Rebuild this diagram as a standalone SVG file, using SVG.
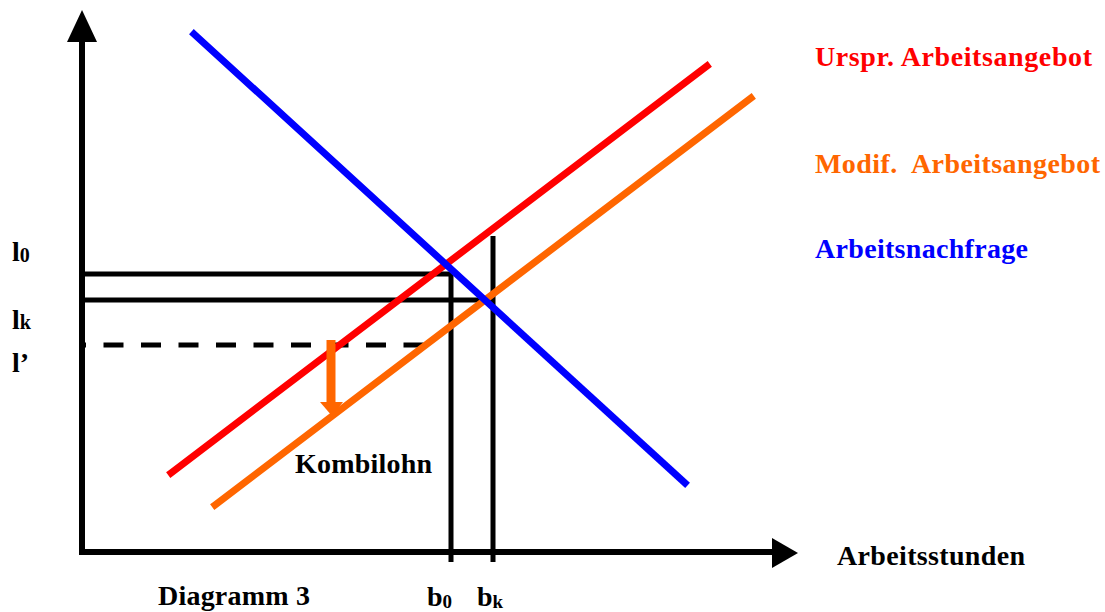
<svg xmlns="http://www.w3.org/2000/svg" width="1105" height="612" viewBox="0 0 1105 612">
<style>
.t{font-family:"Liberation Serif","Times New Roman",serif;font-weight:bold;font-size:28px}
.ax{stroke:#000;stroke-width:6;fill:none}
.gd{stroke:#000;stroke-width:5;fill:none}
.cv{stroke-width:7;fill:none;stroke-linecap:square}
</style>
<rect width="1105" height="612" fill="#fff"/>
<g id="connectors">
  <line class="gd" x1="82" y1="274" x2="453" y2="274"/>
  <line class="gd" x1="82" y1="300" x2="494" y2="300"/>
  <line class="gd" x1="85" y1="345" x2="427" y2="345" stroke-dasharray="20 17.5" stroke-dashoffset="19"/>
  <line class="gd" x1="451" y1="272" x2="451" y2="562"/>
  <line class="gd" x1="493" y1="236" x2="493" y2="562" stroke-width="6"/>
  <line class="cv" stroke="#FF0000" x1="171" y1="473" x2="707" y2="66"/>
  <line class="cv" stroke="#FF6600" x1="215" y1="505" x2="751" y2="98"/>
  <line class="cv" stroke="#0000FF" x1="194" y1="34" x2="685" y2="483"/>
  <line stroke="#FF6600" stroke-width="9" x1="331" y1="340" x2="331" y2="405"/>
  <polygon fill="#FF6600" points="320,402 343,402 332,416"/>
</g>
<g id="axis-y">
  <line class="ax" x1="82" y1="40" x2="82" y2="555"/>
  <polygon points="82,10 67,42 97,42" fill="#000"/>
</g>
<g id="axis-x">
  <line class="ax" x1="79" y1="552" x2="776" y2="552"/>
  <polygon points="798,553 772,538 772,568" fill="#000"/>
</g>
<g id="labels">
  <text class="t" x="815" y="66" fill="#FF0000" textLength="277" lengthAdjust="spacing">Urspr. Arbeitsangebot</text>
  <text class="t" x="815" y="173" fill="#FF6600" textLength="285" lengthAdjust="spacing" xml:space="preserve">Modif.  Arbeitsangebot</text>
  <text class="t" x="815" y="258" fill="#0000FF" textLength="213" lengthAdjust="spacing">Arbeitsnachfrage</text>
  <text class="t" x="837" y="565" fill="#000" textLength="188" lengthAdjust="spacing">Arbeitsstunden</text>
  <text class="t" x="295" y="473" fill="#000" textLength="137" lengthAdjust="spacing">Kombilohn</text>
  <text class="t" x="158" y="605" fill="#000" textLength="152" lengthAdjust="spacing">Diagramm 3</text>
  <text class="t" x="427" y="606" fill="#000">b<tspan font-size="19" dy="2">0</tspan></text>
  <text class="t" x="477" y="606" fill="#000">b<tspan font-size="19" dy="2">k</tspan></text>
  <text class="t" x="12" y="261" fill="#000">l<tspan font-size="20" dy="1">0</tspan></text>
  <text class="t" x="12" y="329" fill="#000">l<tspan font-size="20" dy="0">k</tspan></text>
  <text class="t" x="12" y="372" fill="#000">l’</text>
</g>
</svg>
